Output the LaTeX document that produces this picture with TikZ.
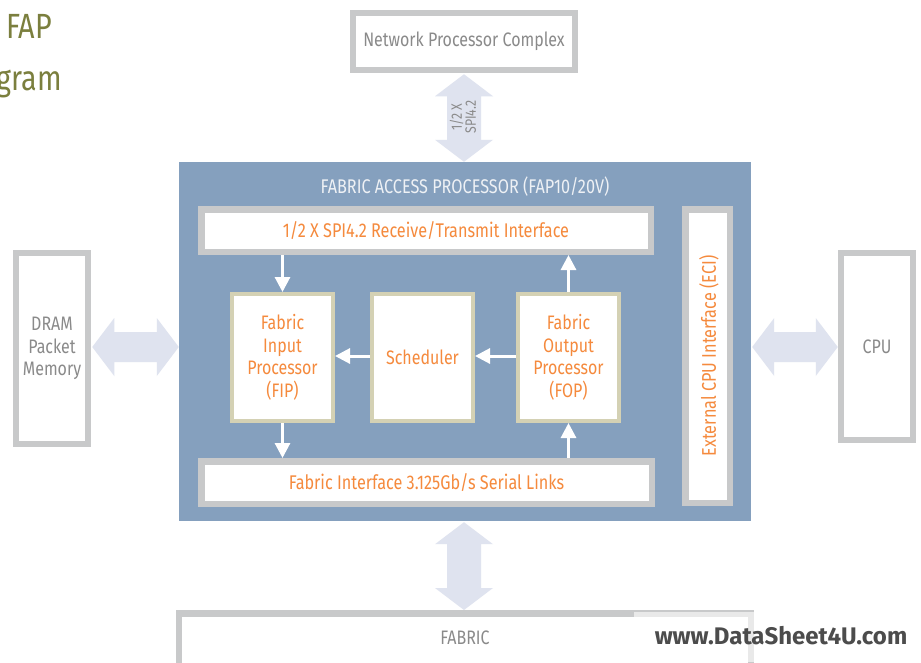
\documentclass[tikz,border=0pt]{standalone}
\usepackage{fontspec}
\setmainfont{Fira Sans}[FakeStretch=0.82]
\newfontfamily\wmfont{Fira Sans}[FakeStretch=1.0]
\usetikzlibrary{arrows.meta,calc}
\definecolor{fapblue}{RGB}{133,160,190}
\definecolor{bordergray}{RGB}{200,201,202}
\definecolor{beige}{RGB}{212,209,180}
\definecolor{orangetxt}{RGB}{245,138,61}
\definecolor{graytxt}{RGB}{138,138,138}
\definecolor{fatc}{RGB}{223,227,239}
\definecolor{olive}{RGB}{123,127,62}
\definecolor{faptitle}{RGB}{238,241,245}
\tikzset{
  gbox/.style={draw=bordergray, line width=6.5pt, fill=white, inner sep=0pt, align=center},
  bbox/.style={draw=beige, line width=4pt, fill=white, inner sep=0pt, align=center,
    minimum width=101pt, minimum height=127pt, text=orangetxt, font=\fontsize{19.5}{22.5}\selectfont},
  outtxt/.style={text=graytxt, font=\fontsize{19.5}{22.5}\selectfont},
  intxt/.style={text=orangetxt, font=\fontsize{19.8}{22}\selectfont},
  warrow/.style={draw=white, line width=3pt, -{Triangle[width=15pt,length=15pt]}},
}
\newcommand\fatv[2]{\fill[fatc] let \p1=(#1), \p2=(#2) in
  (\x1,\y1) -- (\x1+29pt,\y1-22pt) -- (\x1+17pt,\y1-22pt) -- (\x1+17pt,\y2+22pt) --
  (\x1+29pt,\y2+22pt) -- (\x1,\y2) -- (\x1-29pt,\y2+22pt) -- (\x1-17pt,\y2+22pt) --
  (\x1-17pt,\y1-22pt) -- (\x1-29pt,\y1-22pt) -- cycle;}
\newcommand\fath[2]{\fill[fatc] let \p1=(#1), \p2=(#2) in
  (\x1,\y1) -- (\x1+22pt,\y1+29pt) -- (\x1+22pt,\y1+15pt) -- (\x2-22pt,\y1+15pt) --
  (\x2-22pt,\y1+29pt) -- (\x2,\y1) -- (\x2-22pt,\y1-29pt) -- (\x2-22pt,\y1-15pt) --
  (\x1+22pt,\y1-15pt) -- (\x1+22pt,\y1-29pt) -- cycle;}
\begin{document}
\begin{tikzpicture}[x=1pt,y=-1pt]
\useasboundingbox (0,0) rectangle (921,662);
\fill[white] (0,0) rectangle (921,662);
\begin{scope}
\clip (0,0) rectangle (921,662);
% title fragments
\node[anchor=base east, inner sep=0, text=olive, font=\fontsize{35}{40}\selectfont] (t1) at (52,38) {FAP};
\node[anchor=base east, inner sep=0, text=olive, font=\fontsize{35}{40}\selectfont] (t2) at (62,90) {gram};
% outside boxes
\node[gbox, minimum width=222pt, minimum height=57pt, outtxt] (npc) at (464,41.5) {Network Processor Complex};
\node[gbox, minimum width=72pt, minimum height=191pt, outtxt] (dram) at (52,348.5) {DRAM\\Packet\\Memory};
\node[gbox, minimum width=72pt, minimum height=187pt, outtxt] (cpu) at (877,346.5) {CPU};
\node[gbox, minimum width=572pt, minimum height=110pt, anchor=north, outtxt] (fabric) at (465,610) {};
\node[outtxt] (fabtxt) at (465,638) {FABRIC};
% main box
\node[fill=fapblue, minimum width=572pt, minimum height=359pt, inner sep=0pt] (fap) at (465,341.5) {};
\node[text=faptitle, font=\fontsize{19.8}{22}\selectfont] (faptitle) at (465,187) {FABRIC ACCESS PROCESSOR (FAP10/20V)};
% inner boxes
\node[gbox, minimum width=449.5pt, minimum height=42.5pt, intxt] (spi) at (426,230.5) {1/2 X SPI4.2 Receive/Transmit Interface};
\node[gbox, minimum width=450.5pt, minimum height=42.5pt, intxt] (fif) at (426.5,482.5) {Fabric Interface 3.125Gb/s Serial Links};
\node[gbox, minimum width=44.5pt, minimum height=293.5pt, intxt] (eci) at (707.5,356) {};
\node[intxt, rotate=90] (ecitxt) at (709,356) {External CPU Interface (ECI)};
\node[bbox] (fip) at (282.5,357.5) {Fabric\\Input\\Processor\\(FIP)};
\node[bbox] (sch) at (422.5,357.5) {Scheduler};
\node[bbox] (fop) at (568.5,357.5) {Fabric\\Output\\Processor\\(FOP)};
% white arrows
\draw[warrow] (spi.south -| fip.north) -- (fip.north);
\draw[warrow] (fip.south) -- (fip.south |- fif.north);
\draw[warrow] (fop.north) -- (fop.north |- spi.south);
\draw[warrow] (fop.south |- fif.north) -- (fop.south);
\draw[warrow] ([yshift=1.5pt]sch.west) -- ([yshift=1.5pt]sch.west -| fip.east);
\draw[warrow] ([yshift=1.5pt]fop.west) -- ([yshift=1.5pt]fop.west -| sch.east);
% fat arrows
\coordinate (a1) at ($(npc.south)+(0,1)$);
\coordinate (a2) at (npc.south |- fap.north);
\fatv{a1}{a2}
\node[rotate=90, text=graytxt, align=center, font=\fontsize{15}{14}\selectfont] (spilbl) at (463,117) {1/2 X\\SPI4.2};
\coordinate (b1) at ($(fap.south)+(-1,1)$);
\coordinate (b2) at (b1 |- fabric.north);
\fatv{b1}{b2}
\coordinate (c1) at ($(dram.east)+(1,-1.5)$);
\coordinate (c2) at (c1 -| fap.west);
\fath{c1}{c2}
\coordinate (d1) at ($(fap.east)+(1,5.5)$);
\coordinate (d2) at (d1 -| cpu.west);
\fath{d1}{d2}
% watermark
\fill[white, opacity=0.6] (634,612) rectangle (921,662);
\node[text=black!70, font=\wmfont\bfseries\fontsize{24}{26}\selectfont] (wm) at (781,636) {www.DataSheet4U.com};
\end{scope}
\end{tikzpicture}
\end{document}
